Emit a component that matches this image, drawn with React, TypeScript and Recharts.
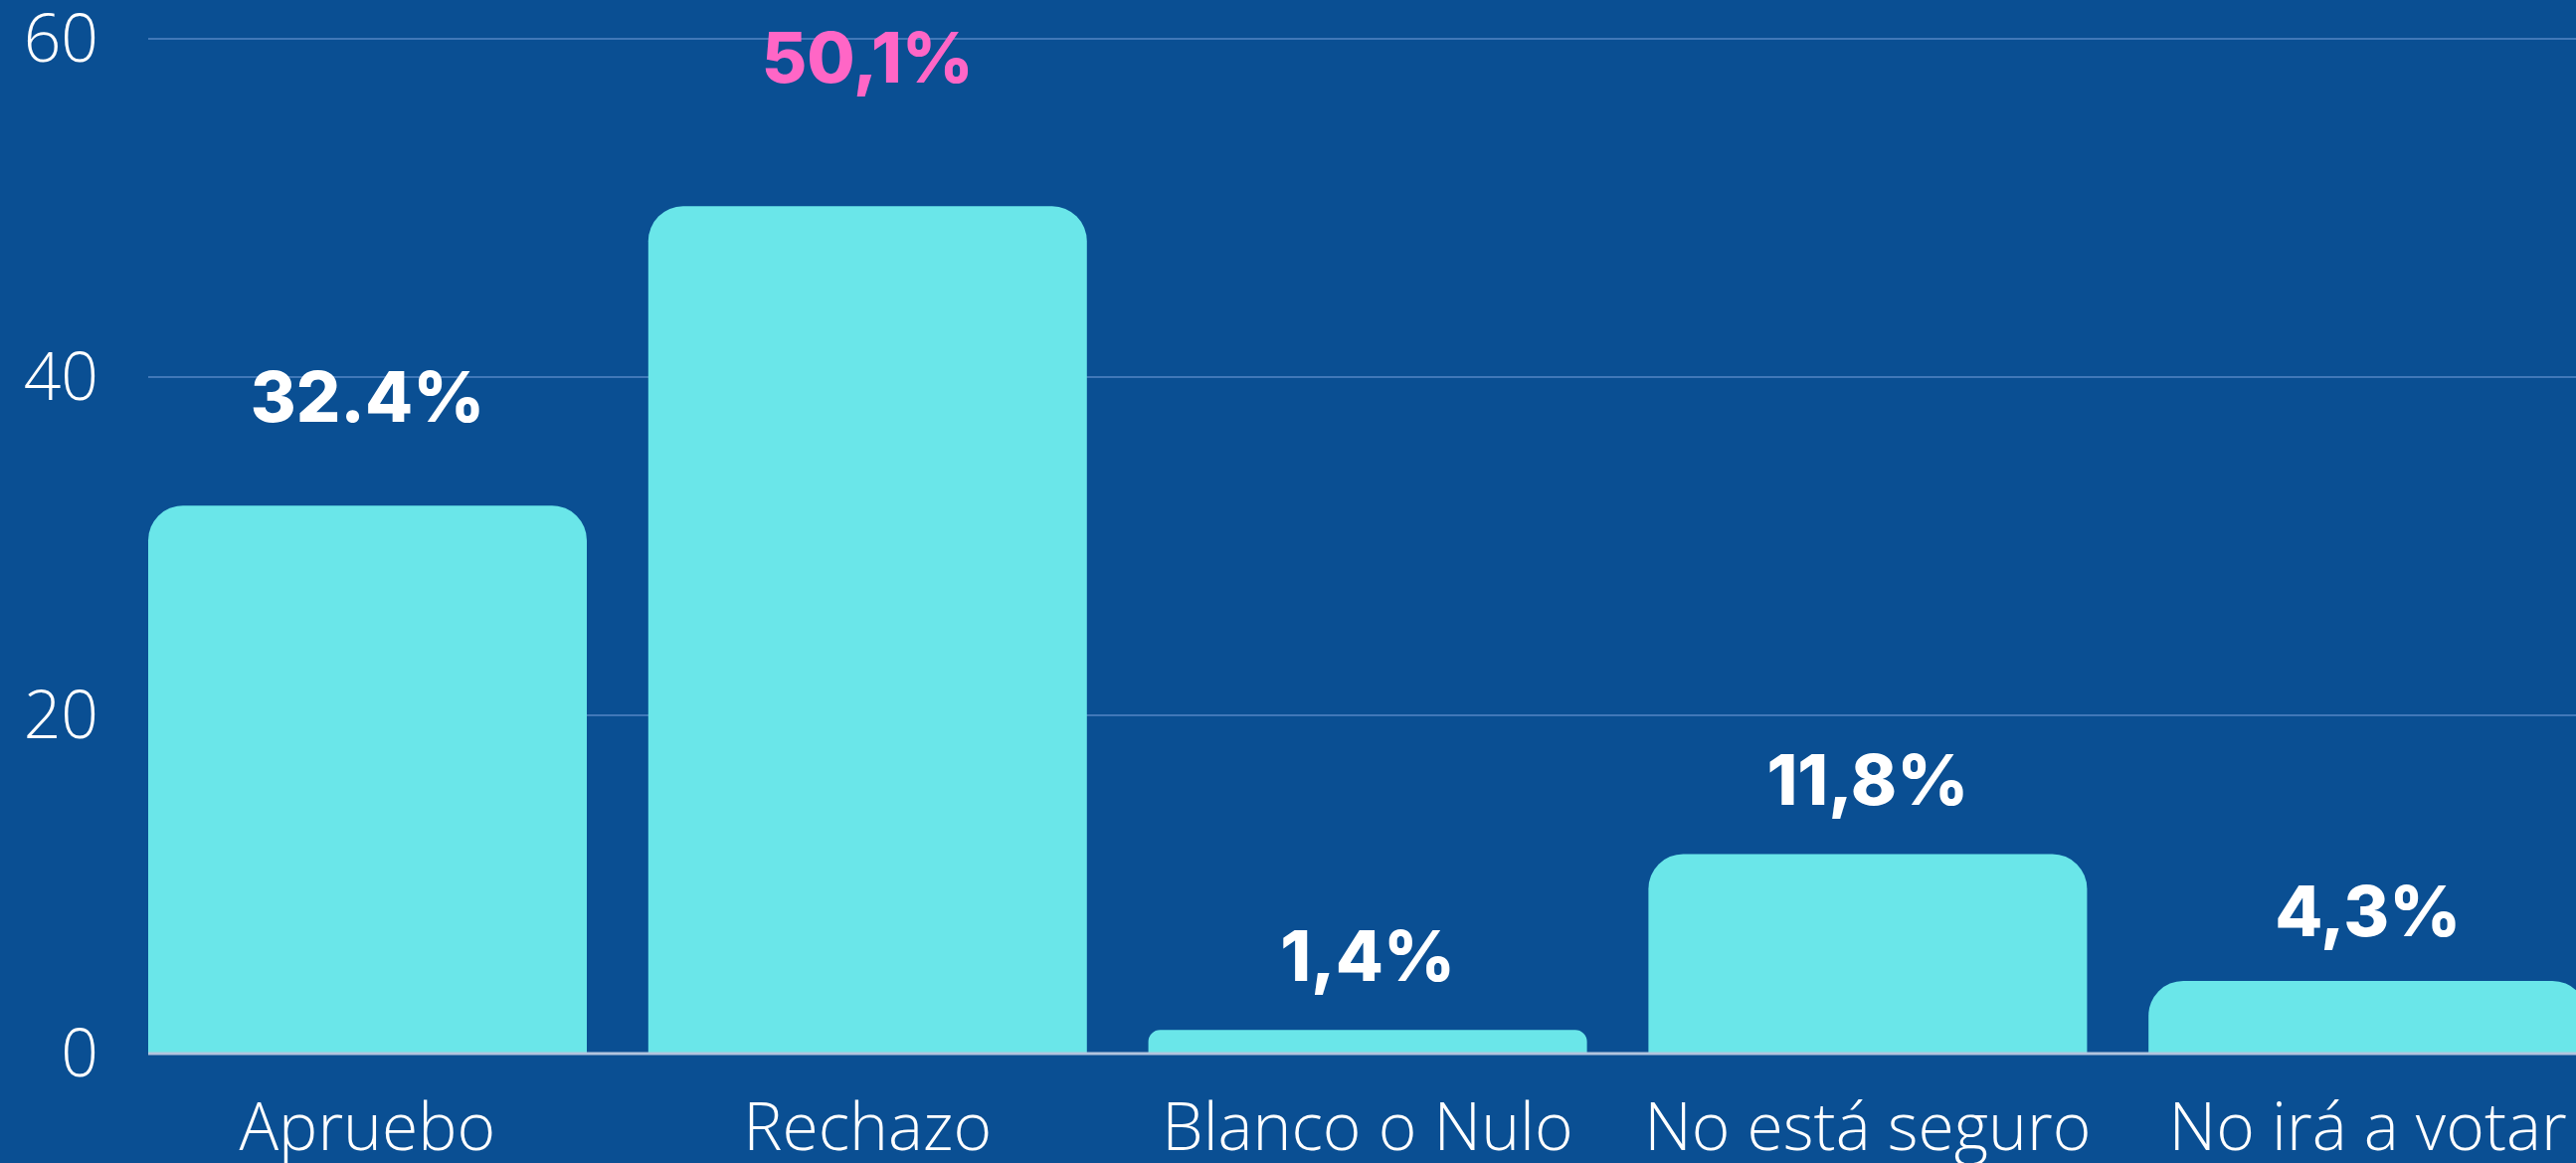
import { Bar, BarChart, CartesianGrid, LabelList, XAxis, YAxis } from "recharts";

const categories = ["Apruebo", "Rechazo", "Blanco o Nulo", "No está seguro", "No irá a votar"];
const values = [32.4, 50.1, 1.4, 11.8, 4.3];
const valueLabels = ["32.4%", "50,1%", "1,4%", "11,8%", "4,3%"];
const yTicks = [0, 20, 40, 60];

// label lift above each bar top (px), the source placed them by hand
const LABEL_LIFT = [84, 124, 49, 49, 45];
const HIGHLIGHT = 1;

const BG = "#0a4f93";
const BAR = "#6ae6e9";
const PINK = "#ff66c6";

const data = categories.map((name, i) => ({ name, value: values[i], label: valueLabels[i] }));

function ValueLabel(props: any) {
  const { x, y, width, index } = props;
  return (
    <text
      x={x + width / 2}
      y={y - LABEL_LIFT[index]}
      textAnchor="middle"
      fill={index === HIGHLIGHT ? PINK : "#ffffff"}
      fontFamily="Inter, 'Noto Sans', sans-serif"
      fontWeight={800}
      fontSize={70}
    >
      {valueLabels[index]}
    </text>
  );
}

export default function App() {
  const tickStyle = { fill: "#ffffff", fontSize: 66, fontFamily: "'Open Sans', sans-serif", fontWeight: 300 };
  return (
    <div style={{ position: "absolute", left: 0, top: 0, width: 2590, height: 1169, overflow: "hidden", background: BG }}>
      <BarChart width={2632} height={1169} data={data} margin={{ top: 39, right: 0, bottom: 0, left: 0 }}>
        <CartesianGrid horizontal vertical={false} stroke="#4178b8" strokeWidth={2} />
        <XAxis
          dataKey="name"
          height={110}
          padding={{ left: -31, right: 0 }}
          axisLine={{ stroke: "#b3c5de", strokeWidth: 3 }}
          tickLine={false}
          tickSize={10}
          tickMargin={40}
          tick={tickStyle}
          interval={0}
        />
        <YAxis
          width={149}
          domain={[0, 60]}
          ticks={yTicks}
          axisLine={false}
          tickLine={false}
          tickSize={10}
          tickMargin={40}
          tick={tickStyle}
        />
        <Bar dataKey="value" fill={BAR} barSize={441} radius={[35, 35, 0, 0]} isAnimationActive={false}>
          <LabelList dataKey="label" content={ValueLabel} />
        </Bar>
      </BarChart>
    </div>
  );
}
